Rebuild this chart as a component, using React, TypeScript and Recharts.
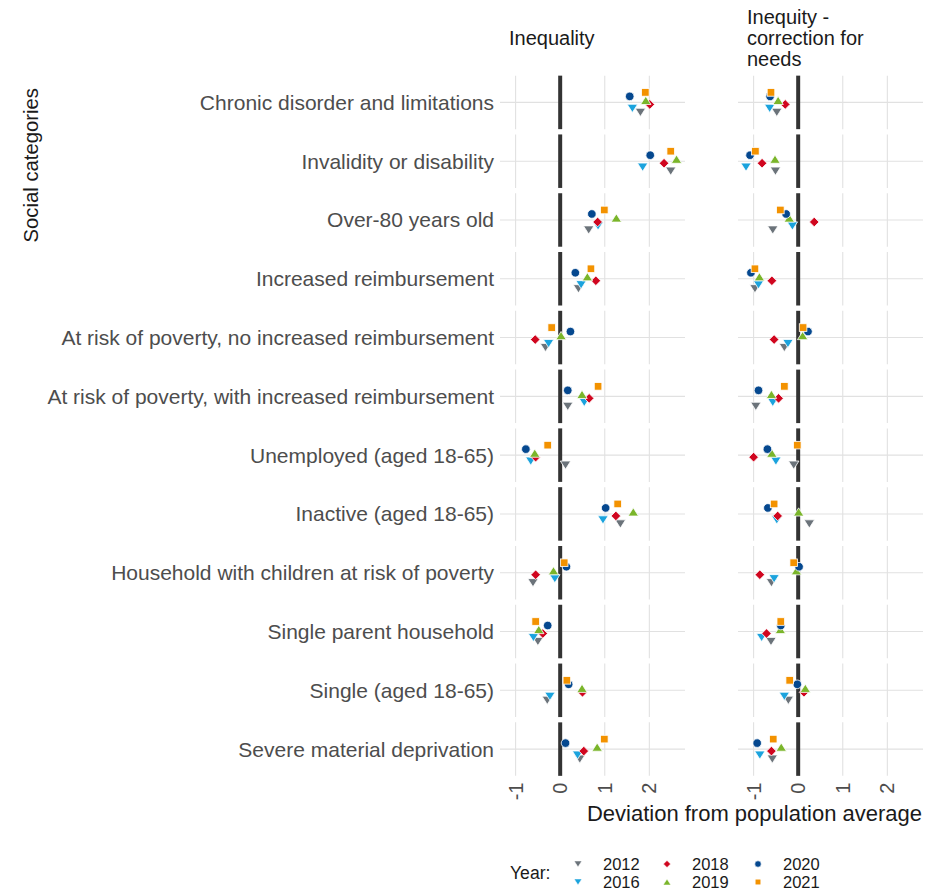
import React from "react";
import {
  ScatterChart,
  Scatter,
  XAxis,
  YAxis,
  ReferenceLine,
} from "recharts";

const categories = [
  "Chronic disorder and limitations",
  "Invalidity or disability",
  "Over-80 years old",
  "Increased reimbursement",
  "At risk of poverty, no increased reimbursement",
  "At risk of poverty, with increased reimbursement",
  "Unemployed (aged 18-65)",
  "Inactive (aged 18-65)",
  "Household with children at risk of poverty",
  "Single parent household",
  "Single (aged 18-65)",
  "Severe material deprivation",
];

const years = ["2012", "2016", "2018", "2019", "2020", "2021"];
const xTicks = [-1, 0, 1, 2];

// Inequality panel
const ineq2012 = [1.8, 2.48, 0.64, 0.41, -0.33, 0.17, 0.12, 1.35, -0.61, -0.5, -0.29, 0.44];
const ineq2016 = [1.62, 1.85, 0.85, 0.47, -0.26, 0.54, -0.66, 0.96, -0.12, -0.6, -0.23, 0.39];
const ineq2018 = [2.01, 2.33, 0.84, 0.8, -0.56, 0.65, -0.55, 1.25, -0.55, -0.39, 0.5, 0.53];
const ineq2019 = [1.92, 2.61, 1.26, 0.61, 0.02, 0.49, -0.57, 1.64, -0.15, -0.48, 0.49, 0.83];
const ineq2020 = [1.56, 2.02, 0.71, 0.34, 0.23, 0.17, -0.77, 1.02, 0.14, -0.28, 0.19, 0.12];
const ineq2021 = [1.91, 2.48, 0.99, 0.69, -0.19, 0.85, -0.28, 1.29, 0.09, -0.55, 0.15, 0.99];

// Inequity panel (correction for needs)
const ineqt2012 = [-0.48, -0.51, -0.57, -0.97, -0.31, -0.95, -0.1, 0.25, -0.6, -0.61, -0.22, -0.58];
const ineqt2016 = [-0.64, -1.17, -0.13, -0.89, -0.23, -0.57, -0.5, -0.48, -0.54, -0.82, -0.31, -0.86];
const ineqt2018 = [-0.29, -0.81, 0.36, -0.59, -0.54, -0.44, -1.0, -0.46, -0.86, -0.71, 0.13, -0.6];
const ineqt2019 = [-0.45, -0.52, -0.2, -0.87, 0.1, -0.6, -0.59, 0.01, -0.04, -0.4, 0.16, -0.38];
const ineqt2020 = [-0.63, -1.08, -0.27, -1.06, 0.22, -0.89, -0.69, -0.68, 0.02, -0.39, -0.02, -0.92];
const ineqt2021 = [-0.61, -0.96, -0.4, -0.97, 0.11, -0.31, -0.02, -0.54, -0.1, -0.39, -0.19, -0.56];

const inequality = [ineq2012, ineq2016, ineq2018, ineq2019, ineq2020, ineq2021];
const inequity = [ineqt2012, ineqt2016, ineqt2018, ineqt2019, ineqt2020, ineqt2021];

const colors = ["#6b737a", "#1ba3dd", "#d0061f", "#7ab52a", "#05488f", "#f39200"];
const kinds = ["down", "down", "diamond", "up", "circle", "square"];

const FONT = "'Liberation Sans', Arial, sans-serif";
const GRID = "#e1e1e1";

const Marker = ({ cx, cy, kind, color, s = 1 }: any) => {
  if (cx == null || cy == null) return null;
  const common = { fill: color, stroke: "#fff", strokeWidth: 0.8 * s };
  if (kind === "circle") return <circle cx={cx} cy={cy} r={4.3 * s} {...common} />;
  if (kind === "square")
    return <rect x={cx - 3.8 * s} y={cy - 3.8 * s} width={7.6 * s} height={7.6 * s} {...common} />;
  if (kind === "diamond") {
    const d = 4.8 * s;
    return <polygon points={`${cx},${cy - d} ${cx + d},${cy} ${cx},${cy + d} ${cx - d},${cy}`} {...common} />;
  }
  const w = 5.2 * s;
  const h = 8.2 * s;
  if (kind === "up")
    return <polygon points={`${cx - w},${cy + h / 2} ${cx + w},${cy + h / 2} ${cx},${cy - h / 2}`} {...common} />;
  return <polygon points={`${cx - w},${cy - h / 2} ${cx + w},${cy - h / 2} ${cx},${cy + h / 2}`} {...common} />;
};

const XTick = ({ x, y, payload }: any) => (
  <text
    x={x}
    y={y}
    transform={`rotate(-90, ${x}, ${y})`}
    textAnchor="end"
    dominantBaseline="central"
    fontSize={20}
    fontFamily={FONT}
    fill="#4d4d4d"
  >
    {payload.value}
  </text>
);

const YTick = ({ x, y, payload }: any) => (
  <text x={x} y={y} textAnchor="end" dominantBaseline="central" fontSize={21} fontFamily={FONT} fill="#4d4d4d">
    {categories[payload.value]}
  </text>
);

const rows = categories.map((_, i) => i);

function Panel({ series, width, margin, showY }: any) {
  return (
    <ScatterChart width={width} height={892} margin={margin}>
      <XAxis
        type="number"
        dataKey="x"
        domain={[-1.35, 2.8]}
        allowDataOverflow
        ticks={xTicks}
        interval={0}
        axisLine={false}
        tickLine={false}
        tickSize={0}
        tickMargin={4}
        height={40}
        tick={<XTick />}
      />
      <YAxis
        type="number"
        dataKey="y"
        domain={[-0.5, 11.5]}
        allowDataOverflow
        reversed
        ticks={rows}
        interval={0}
        axisLine={false}
        tickLine={false}
        tickSize={0}
        tickMargin={6}
        width={showY ? 500 : 0}
        hide={!showY}
        tick={<YTick />}
      />
      {rows.map((i) => (
        <ReferenceLine key={`h${i}`} y={i} stroke={GRID} strokeWidth={1.1} />
      ))}
      {rows.map((i) =>
        [-1, 1, 2].map((t) => (
          <ReferenceLine
            key={`v${i}-${t}`}
            segment={[
              { x: t, y: i - 0.455 },
              { x: t, y: i + 0.455 },
            ]}
            stroke={GRID}
            strokeWidth={1.1}
          />
        ))
      )}
      {rows.map((i) => (
        <ReferenceLine
          key={`z${i}`}
          segment={[
            { x: 0, y: i - 0.455 },
            { x: 0, y: i + 0.455 },
          ]}
          stroke="#333333"
          strokeWidth={4}
        />
      ))}
      {series.map((vals: number[], k: number) => {
        const offset = (2.5 - k) * 4;
        return (
          <Scatter
            key={years[k]}
            name={years[k]}
            data={vals.map((v, i) => ({ x: v, y: i }))}
            isAnimationActive={false}
            shape={(p: any) => <Marker cx={p.cx} cy={p.cy + offset} kind={kinds[k]} color={colors[k]} />}
          />
        );
      })}
    </ScatterChart>
  );
}

const legendCols = [578, 667, 758];
const legendRows = [864, 882];

export default function App() {
  return (
    <div style={{ position: "absolute", left: 0, top: 0, width: 946, height: 892, background: "#fff" }}>
      <div style={{ position: "absolute", left: 0, top: 0 }}>
        <Panel series={inequality} width={690} margin={{ top: 73, right: 5, bottom: 73.5, left: 0 }} showY />
      </div>
      <div style={{ position: "absolute", left: 700, top: 0 }}>
        <Panel series={inequity} width={225} margin={{ top: 73, right: 2, bottom: 73.5, left: 38 }} showY={false} />
      </div>
      <svg width={946} height={892} style={{ position: "absolute", left: 0, top: 0, pointerEvents: "none" }}>
        <g fontFamily={FONT} fill="#1a1a1a">
          <text x={509} y={38} fontSize={20} dominantBaseline="central">
            Inequality
          </text>
          <text x={747} y={17} fontSize={20} dominantBaseline="central">
            Inequity -
          </text>
          <text x={747} y={38} fontSize={20} dominantBaseline="central">
            correction for
          </text>
          <text x={747} y={59} fontSize={20} dominantBaseline="central">
            needs
          </text>
          <text x={922} y={813} fontSize={22} textAnchor="end" dominantBaseline="central">
            Deviation from population average
          </text>
          <text
            x={31}
            y={88}
            fontSize={20.3}
            textAnchor="end"
            dominantBaseline="central"
            transform="rotate(-90, 31, 88)"
          >
            Social categories
          </text>
          <text x={510} y={873} fontSize={17.6} dominantBaseline="central">
            Year:
          </text>
          {years.map((yr, k) => {
            const col = Math.floor(k / 2);
            const row = k % 2;
            const cx = legendCols[col];
            const cy = legendRows[row];
            return (
              <g key={yr}>
                <Marker cx={cx} cy={cy} kind={kinds[k]} color={colors[k]} s={0.75} />
                <text x={cx + 25} y={cy} fontSize={16.5} dominantBaseline="central">
                  {yr}
                </text>
              </g>
            );
          })}
        </g>
      </svg>
    </div>
  );
}
